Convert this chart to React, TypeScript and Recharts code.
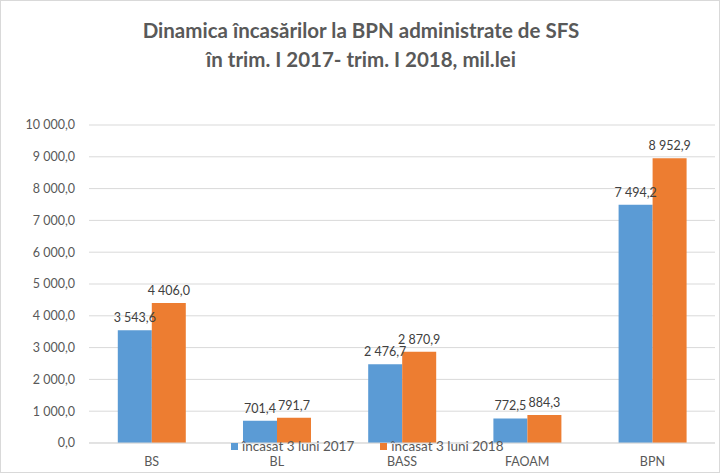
import { Bar, BarChart, CartesianGrid, LabelList, XAxis, YAxis } from "recharts";

const categories = ["BS", "BL", "BASS", "FAOAM", "BPN"];
const values2017 = [3543.6, 701.4, 2476.7, 772.5, 7494.2];
const values2018 = [4406.0, 791.7, 2870.9, 884.3, 8952.9];
const yTicks = [0, 1000, 2000, 3000, 4000, 5000, 6000, 7000, 8000, 9000, 10000];
const seriesNames = ["încasat 3 luni 2017", "încasat 3 luni 2018"];

const data = categories.map((c, i) => ({
  name: c,
  a: values2017[i],
  b: values2018[i],
}));

const FONT = "Lato, 'Open Sans', sans-serif";
const BLUE = "#5b9bd5";
const ORANGE = "#ed7d31";

// 10 000,0 style
function fmt(n: number) {
  const [int, dec] = n.toFixed(1).split(".");
  return int.replace(/\B(?=(\d{3})+(?!\d))/g, " ") + "," + dec;
}

// plain label, no wrapping
function BarLabel(props: any) {
  const { x, y, width, value } = props;
  return (
    <text
      x={Number(x) + Number(width) / 2}
      y={Number(y) - 8}
      textAnchor="middle"
      fill="#404040"
      fontSize={12.5}
      fontFamily={FONT}
    >
      {fmt(Number(value))}
    </text>
  );
}

export default function App() {
  return (
    <div
      style={{
        position: "absolute",
        left: 0,
        top: 0,
        width: 720,
        height: 473,
        background: "#fff",
        boxSizing: "border-box",
        border: "1px solid #d9d9d9",
        fontFamily: FONT,
      }}
    >
      <div
        style={{
          position: "absolute",
          top: 15,
          left: 0,
          width: 720,
          textAlign: "center",
          fontSize: 20.5,
          fontWeight: 700,
          color: "#595959",
          lineHeight: "29px",
        }}
      >
        Dinamica încasărilor la BPN administrate de SFS
        <br />
        în trim. I 2017- trim. I 2018, mil.lei
      </div>
      <div style={{ position: "absolute", left: -1, top: -1 }}>
        <BarChart
          width={720}
          height={473}
          data={data}
          margin={{ top: 125, right: 5, left: 0, bottom: 0 }}
          barCategoryGap="23%"
          barGap={0}
        >
          <CartesianGrid stroke="#d9d9d9" vertical={false} />
          <XAxis
            dataKey="name"
            height={30}
            tickLine={false}
            axisLine={{ stroke: "#d9d9d9" }}
            tick={{ fill: "#595959", fontSize: 12.5, fontFamily: FONT }}
            tickMargin={8}
          />
          <YAxis
            width={89}
            domain={[0, 10000]}
            ticks={yTicks}
            interval={0}
            axisLine={false}
            tickLine={false}
            tickMargin={8}
            tickFormatter={fmt}
            tick={{ fill: "#595959", fontSize: 12.5, fontFamily: FONT }}
          />
          <Bar dataKey="a" name={seriesNames[0]} fill={BLUE} isAnimationActive={false}>
            <LabelList dataKey="a" content={BarLabel} />
          </Bar>
          <Bar dataKey="b" name={seriesNames[1]} fill={ORANGE} isAnimationActive={false}>
            <LabelList dataKey="b" content={BarLabel} />
          </Bar>
        </BarChart>
      </div>
      <div
        style={{
          position: "absolute",
          top: 438,
          left: 230,
          display: "flex",
          gap: 26,
          fontSize: 13.5,
          color: "#595959",
          lineHeight: "14px",
        }}
      >
        {seriesNames.map((n, i) => (
          <div key={n} style={{ display: "flex", alignItems: "center", gap: 4 }}>
            <span
              style={{
                width: 7,
                height: 7,
                background: i === 0 ? BLUE : ORANGE,
                display: "inline-block",
              }}
            />
            <span>{n}</span>
          </div>
        ))}
      </div>
    </div>
  );
}
